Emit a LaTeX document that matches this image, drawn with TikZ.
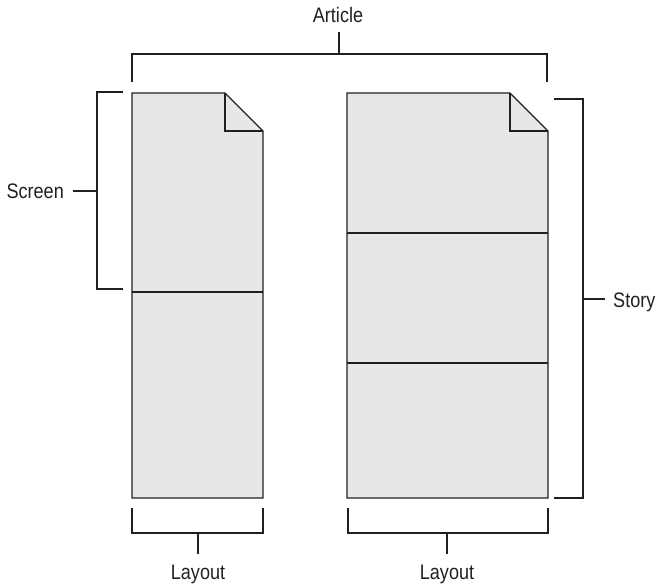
\documentclass[tikz,border=0pt]{standalone}
\usepackage{fontspec}
\setmainfont{Liberation Sans}[FakeStretch=0.86]
\definecolor{pagegray}{HTML}{E6E7E9}
\definecolor{ink}{HTML}{231F20}
\begin{document}
\begin{tikzpicture}[x=1pt,y=-1pt,
  page/.style={draw=ink,fill=pagegray,line width=1.4pt,line join=miter},
  rule/.style={draw=ink,line width=1.4pt},
  lbl/.style={font=\fontsize{21}{24}\selectfont,text=ink,inner sep=0pt}]
\useasboundingbox (0,0) rectangle (660,586);
% left page
\draw[page] (132,93) -- (225,93) -- (263,131) -- (263,498) -- (132,498) -- cycle;
\draw[rule] (225,93) -- (225,131) -- (263,131);
\draw[rule] (132,292) -- (263,292);
% right page
\draw[page] (347,93) -- (510,93) -- (548,131) -- (548,498) -- (347,498) -- cycle;
\draw[rule] (510,93) -- (510,131) -- (548,131);
\draw[rule] (347,233) -- (548,233);
\draw[rule] (347,363) -- (548,363);
% Article bracket
\node[lbl,anchor=base] (article) at (338,23) {Article};
\coordinate (artstem) at (339,32);
\draw[rule] (132,82) -- (132,54) -- (547,54) -- (547,82);
\draw[rule] (artstem) -- (339,54);
% Screen bracket
\node[lbl,anchor=base east] (screen) at (64,198) {Screen};
\draw[rule] (123,92) -- (97,92) -- (97,289) -- (123,289);
\draw[rule] (screen.east |- 0,191) ++(9,0) -- (97,191);
% Story bracket
\node[lbl,anchor=base west] (story) at (613,307) {Story};
\draw[rule] (554,99) -- (583,99) -- (583,498) -- (554,498);
\draw[rule] (583,299) -- (605,299);
% Layout brackets
\node[lbl,anchor=base] (layout1) at (198,579) {Layout};
\draw[rule] (132,508) -- (132,533) -- (263,533) -- (263,508);
\draw[rule] (198,533) -- (198,554);
\node[lbl,anchor=base] (layout2) at (447,579) {Layout};
\draw[rule] (348,508) -- (348,533) -- (548,533) -- (548,508);
\draw[rule] (447,533) -- (447,554);
\end{tikzpicture}
\end{document}
